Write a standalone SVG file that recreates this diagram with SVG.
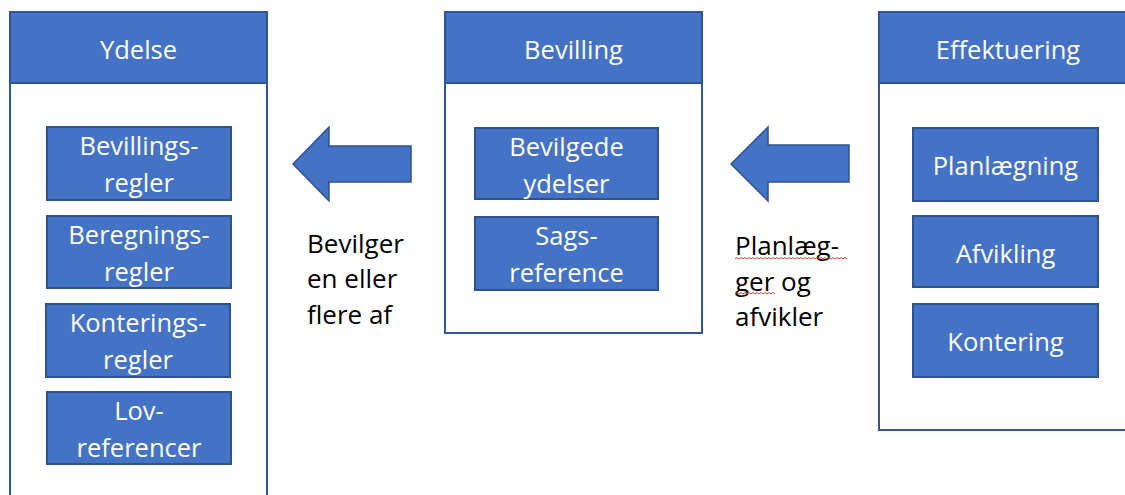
<svg xmlns="http://www.w3.org/2000/svg" width="1125" height="495" viewBox="0 0 1125 495">
<style>
.cont{fill:#ffffff;stroke:#2F5597;stroke-width:2}
.head{fill:#4472C4;stroke:#2F5597;stroke-width:2}
.box{fill:#4472C4;stroke:#2F528F;stroke-width:2}
.wt{font-family:"Open Sans","Liberation Sans",sans-serif;font-size:25.5px;fill:#ffffff;text-anchor:middle}
.bt{font-family:"Open Sans","Liberation Sans",sans-serif;font-size:26px;fill:#000000}
.arrow{fill:#4472C4;stroke:#2F528F;stroke-width:1.5}
.squig{fill:none;stroke:#E03C31;stroke-width:1}
</style>
<rect width="1125" height="495" fill="#ffffff"/>
<g id="ydelse">
<rect class="cont" x="10" y="12" width="257" height="500"/>
<rect class="head" x="10" y="12" width="257" height="71"/>
<text class="wt" x="138.5" y="59">Ydelse</text>
</g>
<g id="bevillingsregler">
<rect class="box" x="47" y="127" width="184" height="73"/>
<text class="wt" x="139" y="155">Bevillings-</text>
<text class="wt" x="139" y="192">regler</text>
</g>
<g id="beregningsregler">
<rect class="box" x="47" y="216" width="184" height="72"/>
<text class="wt" x="139" y="244">Beregnings-</text>
<text class="wt" x="139" y="281">regler</text>
</g>
<g id="konteringsregler">
<rect class="box" x="46" y="304" width="184" height="73"/>
<text class="wt" x="138" y="332">Konterings-</text>
<text class="wt" x="138" y="369">regler</text>
</g>
<g id="lovreferencer">
<rect class="box" x="47" y="392" width="184" height="72"/>
<text class="wt" x="139" y="420">Lov-</text>
<text class="wt" x="139" y="457">referencer</text>
</g>
<g id="bevilling">
<rect class="cont" x="445" y="12" width="257" height="321"/>
<rect class="head" x="445" y="12" width="257" height="71"/>
<text class="wt" x="573.5" y="59">Bevilling</text>
</g>
<g id="bevilgede">
<rect class="box" x="475" y="128" width="183" height="71"/>
<text class="wt" x="566.5" y="156">Bevilgede</text>
<text class="wt" x="566.5" y="193">ydelser</text>
</g>
<g id="sagsreference">
<rect class="box" x="475" y="217" width="183" height="73"/>
<text class="wt" x="566.5" y="245">Sags-</text>
<text class="wt" x="566.5" y="282">reference</text>
</g>
<g id="effektuering">
<rect class="cont" x="879" y="12" width="258" height="418"/>
<rect class="head" x="879" y="12" width="258" height="71"/>
<text class="wt" x="1008" y="59">Effektuering</text>
</g>
<g id="planlaegning">
<rect class="box" x="913" y="128" width="185" height="73"/>
<text class="wt" x="1005.5" y="175">Planlægning</text>
</g>
<g id="afvikling">
<rect class="box" x="913" y="216" width="185" height="71"/>
<text class="wt" x="1005.5" y="263">Afvikling</text>
</g>
<g id="kontering">
<rect class="box" x="913" y="304" width="185" height="73"/>
<text class="wt" x="1005.5" y="351">Kontering</text>
</g>
<g id="connectors">
<polygon class="arrow" points="293,164 329,127 329,146 411,146 411,182 329,182 329,201"/>
<polygon class="arrow" points="731,164 768,127 768,145 849,145 849,182 768,182 768,201"/>
<text class="bt" x="307" y="253">Bevilger</text>
<text class="bt" x="307" y="288">en eller</text>
<text class="bt" x="307" y="324">flere af</text>
<text class="bt" x="735" y="255">Planlæg-</text>
<text class="bt" x="735" y="291">ger og</text>
<text class="bt" x="735" y="326">afvikler</text>
<path class="squig" d="M735,259 l2,-1.5 l2,1.5 l2,-1.5 l2,1.5 l2,-1.5 l2,1.5 l2,-1.5 l2,1.5 l2,-1.5 l2,1.5 l2,-1.5 l2,1.5 l2,-1.5 l2,1.5 l2,-1.5 l2,1.5 l2,-1.5 l2,1.5 l2,-1.5 l2,1.5 l2,-1.5 l2,1.5 l2,-1.5 l2,1.5 l2,-1.5 l2,1.5 l2,-1.5 l2,1.5 l2,-1.5 l2,1.5 l2,-1.5 l2,1.5 l2,-1.5 l2,1.5 l2,-1.5 l2,1.5 l2,-1.5 l2,1.5 l2,-1.5 l2,1.5 l2,-1.5 l2,1.5 l2,-1.5 l2,1.5 l2,-1.5 l2,1.5 l2,-1.5 l2,1.5 l2,-1.5 l2,1.5 l2,-1.5 l2,1.5 l2,-1.5 l2,1.5 l2,-1.5 l2,1.5"/>
<path class="squig" d="M735,294 l2,-1.5 l2,1.5 l2,-1.5 l2,1.5 l2,-1.5 l2,1.5 l2,-1.5 l2,1.5 l2,-1.5 l2,1.5 l2,-1.5 l2,1.5 l2,-1.5 l2,1.5 l2,-1.5 l2,1.5 l2,-1.5 l2,1.5 l2,-1.5 l2,1.5"/>
</g>
</svg>
